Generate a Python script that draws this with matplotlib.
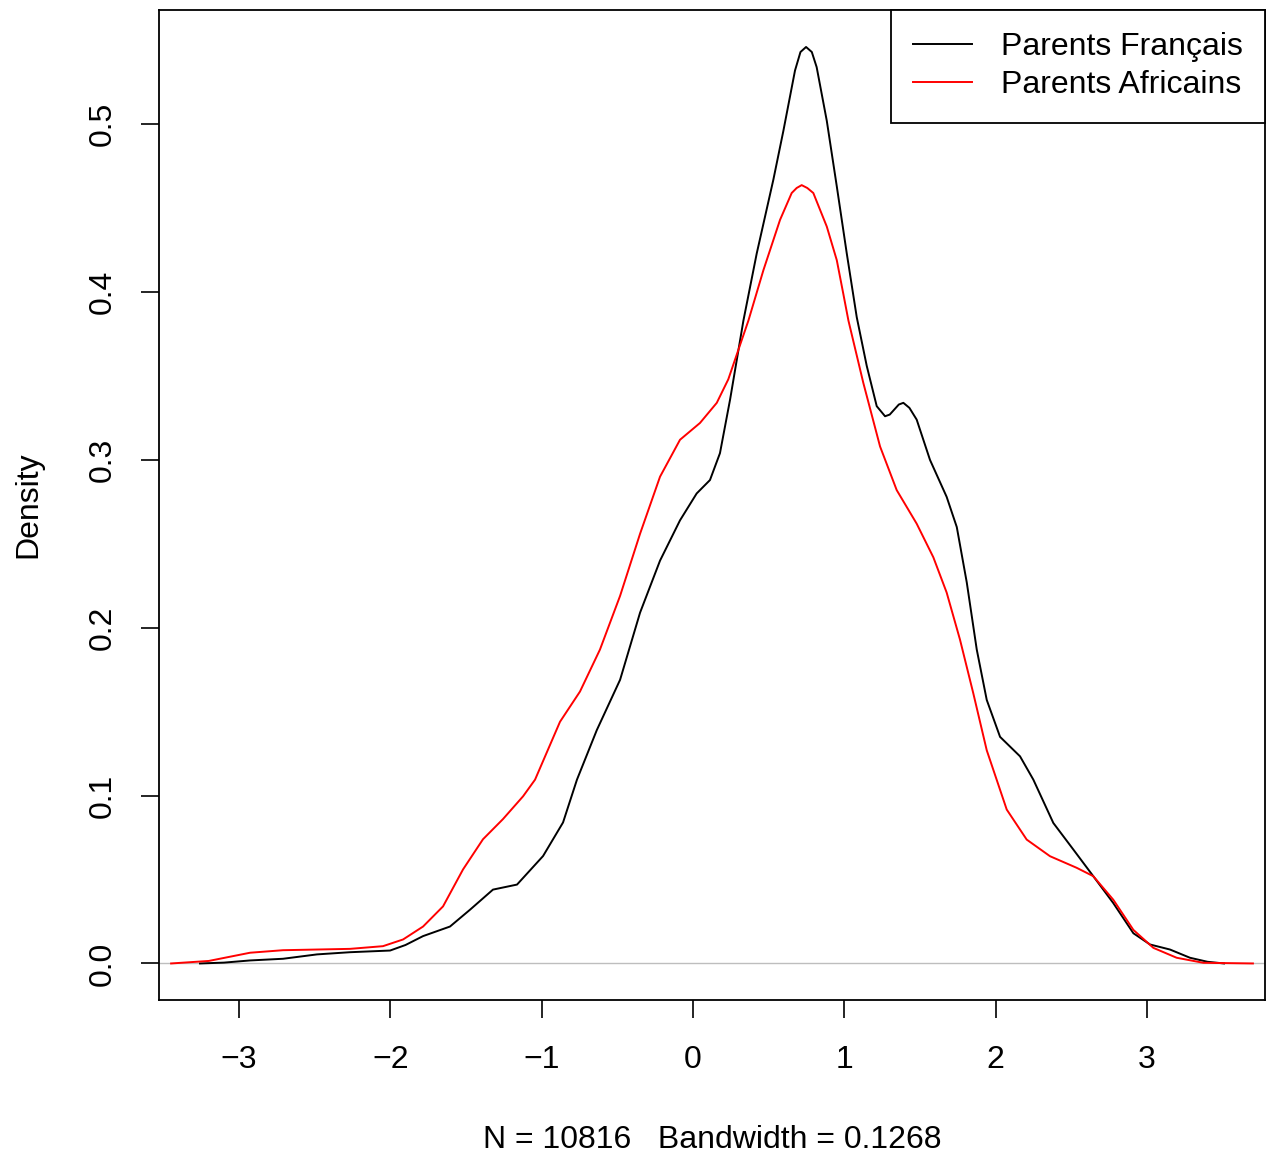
import numpy as np
import matplotlib
matplotlib.use("Agg")
import matplotlib.pyplot as plt

plt.rcParams['font.family'] = ['Liberation Sans', 'DejaVu Sans']

# density curves
x_fr = [-3.258, -3.10, -2.927, -2.709, -2.485, -2.267, -2.002, -1.90, -1.784, -1.606,
        -1.474, -1.322, -1.163, -0.991, -0.859, -0.767, -0.636, -0.482, -0.350, -0.218,
        -0.086, 0.024, 0.112, 0.178, 0.245, 0.333, 0.421, 0.531, 0.597, 0.674,
        0.710, 0.747, 0.785, 0.817, 0.884, 0.950, 1.016, 1.082, 1.148, 1.214, 1.269,
        1.300, 1.360, 1.390, 1.430, 1.478, 1.566, 1.676, 1.743, 1.809, 1.875, 1.941,
        2.029, 2.161, 2.249, 2.381, 2.513, 2.645, 2.777, 2.910, 3.020, 3.152, 3.284,
        3.40, 3.509]
y_fr = [0.0, 0.0005, 0.0018, 0.0028, 0.0054, 0.0067, 0.0077, 0.011, 0.0163, 0.022,
        0.032, 0.044, 0.047, 0.064, 0.084, 0.1095, 0.139, 0.169, 0.209, 0.240,
        0.264, 0.280, 0.288, 0.304, 0.336, 0.383, 0.423, 0.467, 0.496, 0.532,
        0.543, 0.546, 0.543, 0.534, 0.502, 0.463, 0.423, 0.385, 0.356, 0.332, 0.326,
        0.327, 0.333, 0.334, 0.331, 0.324, 0.300, 0.278, 0.260, 0.227, 0.187, 0.157,
        0.135, 0.1234, 0.1095, 0.0837, 0.0679, 0.052, 0.036, 0.018, 0.0113, 0.0083, 0.0034,
        0.001, 0.0]

x_af = [-3.449, -3.2, -2.927, -2.709, -2.267, -2.049, -1.916, -1.784, -1.652, -1.520,
        -1.388, -1.256, -1.123, -1.044, -0.879, -0.747, -0.615, -0.482, -0.350, -0.218,
        -0.086, 0.046, 0.157, 0.233, 0.366, 0.465, 0.575, 0.652, 0.685, 0.718, 0.755,
        0.795, 0.884, 0.950, 0.993, 1.027, 1.125, 1.236, 1.346, 1.478, 1.588, 1.676,
        1.764, 1.852, 1.941, 2.073, 2.205, 2.359, 2.535, 2.645, 2.777, 2.910,
        3.042, 3.196, 3.372, 3.70]
y_af = [0.0, 0.0015, 0.0064, 0.0079, 0.0087, 0.0103, 0.0143, 0.022, 0.034, 0.056,
        0.074, 0.086, 0.0996, 0.1095, 0.144, 0.162, 0.187, 0.219, 0.256, 0.290,
        0.312, 0.322, 0.334, 0.348, 0.383, 0.413, 0.443, 0.459, 0.462, 0.4637, 0.462,
        0.459, 0.439, 0.419, 0.399, 0.383, 0.346, 0.308, 0.282, 0.262, 0.242, 0.221,
        0.193, 0.161, 0.127, 0.0917, 0.0738, 0.0639, 0.057, 0.052, 0.038, 0.020,
        0.0093, 0.0034, 0.0004, 0.0]

labels = ["Parents Français", "Parents Africains"]
x_ticks = [-3, -2, -1, 0, 1, 2, 3]
y_ticks = [0.0, 0.1, 0.2, 0.3, 0.4, 0.5]

fig = plt.figure(figsize=(12.71, 11.56), dpi=100)
ax = fig.add_axes([0.1251, 0.1349, 0.8702, 0.8564])

ax.axhline(0, color='#bebebe', lw=1.0, zorder=1)
ax.plot(x_fr, y_fr, color='black', lw=1.4, label=labels[0], solid_joinstyle='round')
ax.plot(x_af, y_af, color='red', lw=1.4, label=labels[1], solid_joinstyle='round')

ax.set_xlim(-3.529, 3.78)
ax.set_ylim(-0.0218, 0.568)
ax.set_xticks(x_ticks)
ax.set_xticklabels([str(t).replace('-', '\u2212') for t in x_ticks])
ax.set_yticks(y_ticks)
ax.set_yticklabels([f"{t:.1f}" for t in y_ticks], rotation=90, va='center')
ax.tick_params(axis='x', direction='out', length=13, width=1.2, labelsize=23, pad=19)
ax.tick_params(axis='y', direction='out', length=13, width=1.2, labelsize=23, pad=17)
for s in ax.spines.values():
    s.set_linewidth(1.3)

ax.set_ylabel("Density", fontsize=23, labelpad=32)
ax.set_xlabel("N = 10816   Bandwidth = 0.1268", fontsize=23, labelpad=36)

leg = ax.legend(loc='upper right', fontsize=23, borderaxespad=0, fancybox=False,
                edgecolor='black', framealpha=1, handlelength=1.85, handletextpad=0.9,
                borderpad=0.7, labelspacing=0.25)
leg.get_frame().set_linewidth(1.3)

fig.savefig("out.png", dpi=100)
